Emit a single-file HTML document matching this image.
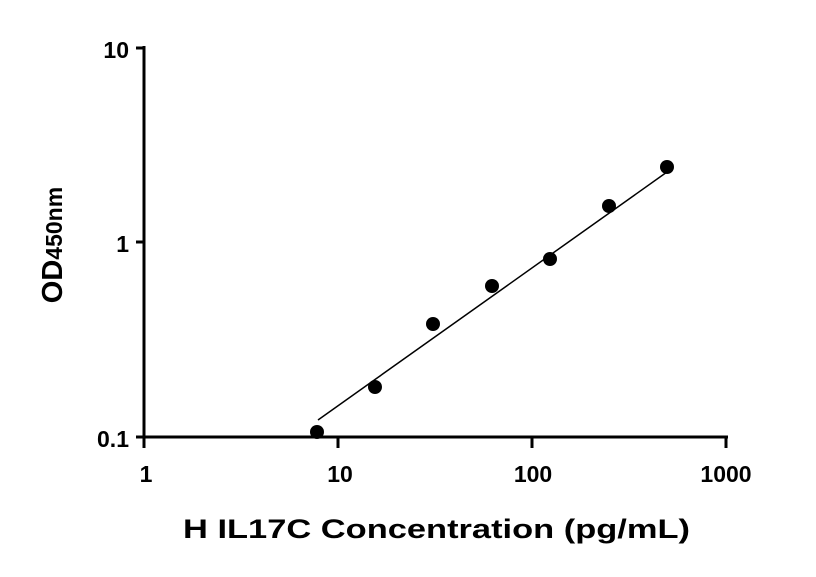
<!DOCTYPE html>
<html><head><style>
html,body{margin:0;padding:0;background:#fff;}
text{font-family:"Liberation Sans",Arial,sans-serif;font-weight:bold;fill:#000;}
</style></head><body>
<svg width="816" height="572" xmlns="http://www.w3.org/2000/svg">
<g stroke="#000" stroke-width="3" fill="none">
<line x1="144" y1="46" x2="144" y2="439"/>
<line x1="142" y1="437" x2="728" y2="437"/>
<line x1="136" y1="48" x2="144" y2="48"/>
<line x1="136" y1="242" x2="144" y2="242"/>
<line x1="136" y1="437" x2="144" y2="437"/>
<line x1="144" y1="437" x2="144" y2="448"/>
<line x1="338" y1="437" x2="338" y2="448"/>
<line x1="532" y1="437" x2="532" y2="448"/>
<line x1="726" y1="437" x2="726" y2="448"/>
</g>
<line x1="318" y1="420" x2="667" y2="172" stroke="#000" stroke-width="1.5"/>
<g fill="#000">
<circle cx="317" cy="432" r="7"/>
<circle cx="375" cy="387" r="7"/>
<circle cx="433" cy="324" r="7"/>
<circle cx="492" cy="286" r="7"/>
<circle cx="550" cy="259" r="7"/>
<circle cx="609" cy="206" r="7"/>
<circle cx="667" cy="167" r="7"/>
</g>
<g font-size="23" text-anchor="end">
<text x="129" y="58">10</text>
<text x="129" y="252">1</text>
<text x="129" y="447">0.1</text>
</g>
<g font-size="23" text-anchor="middle">
<text x="146" y="482">1</text>
<text x="340" y="482">10</text>
<text x="533" y="482">100</text>
<text x="726" y="482">1000</text>
</g>
<text x="183" y="538" font-size="27" textLength="507" lengthAdjust="spacingAndGlyphs">H IL17C Concentration (pg/mL)</text>
<text transform="translate(62,245) rotate(-90)" text-anchor="middle"><tspan font-size="29">OD</tspan><tspan font-size="23">450nm</tspan></text>
</svg>
</body></html>
